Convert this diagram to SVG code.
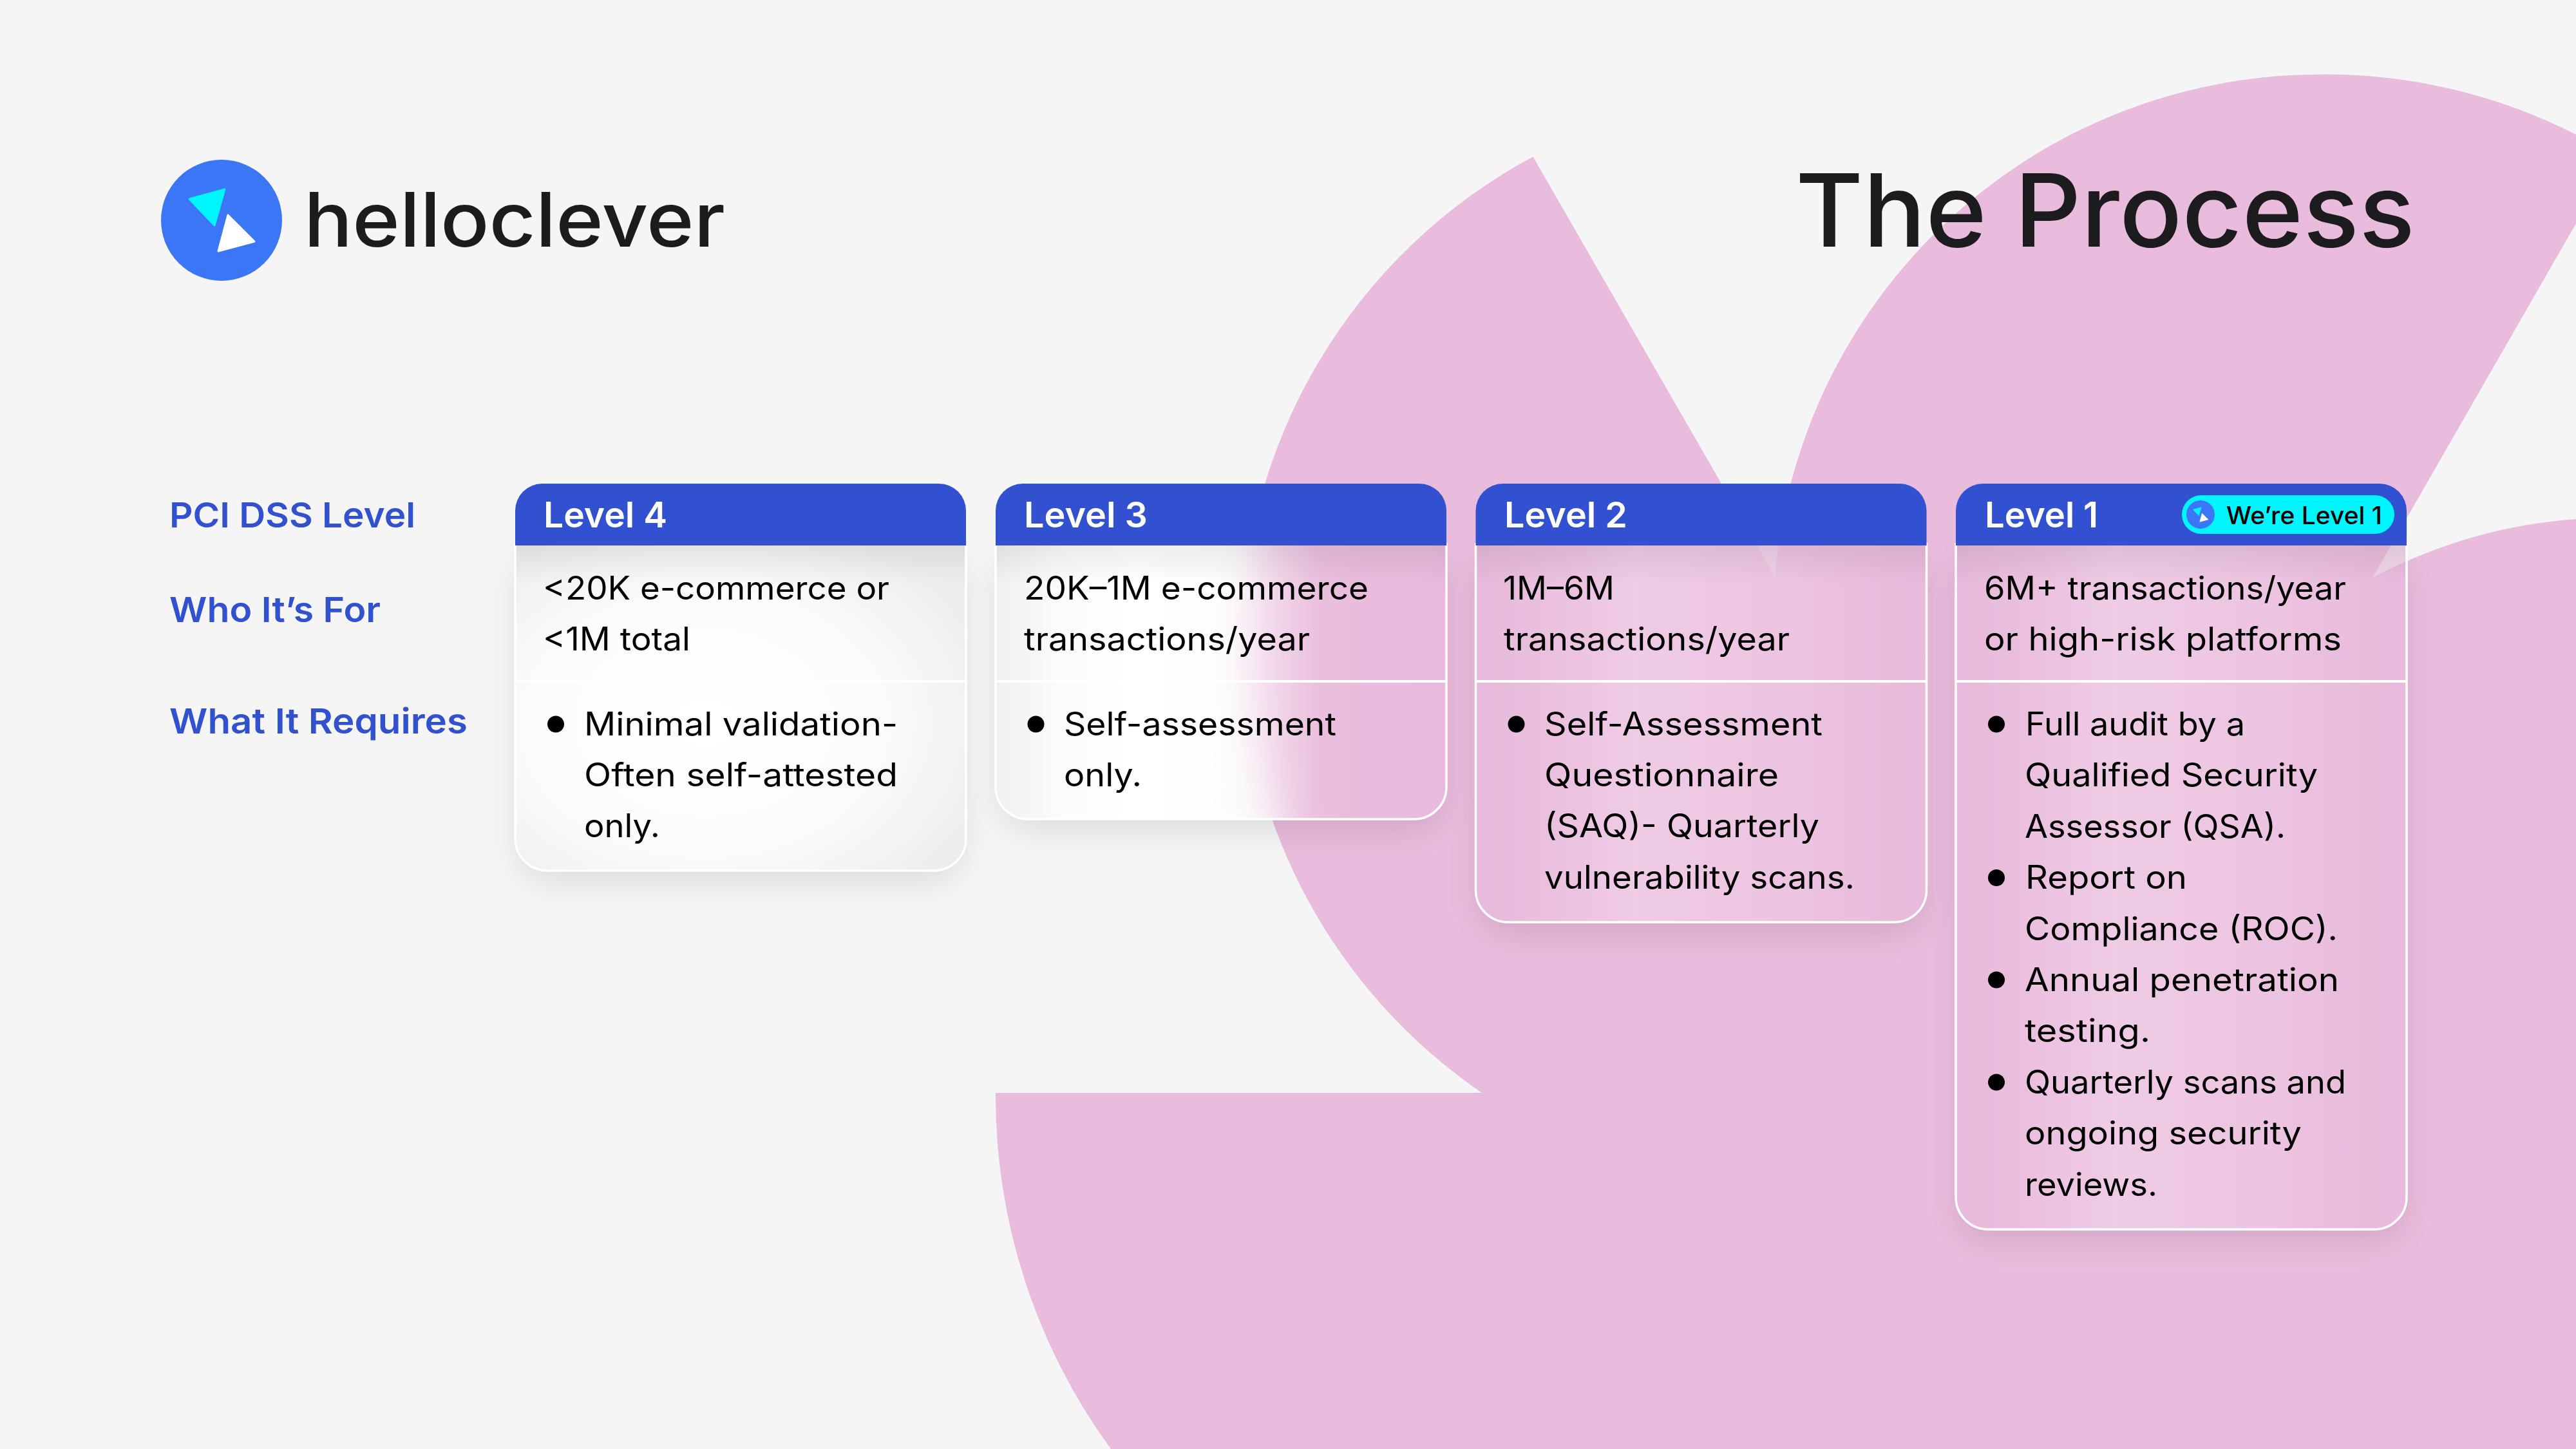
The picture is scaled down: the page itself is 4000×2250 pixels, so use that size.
<svg xmlns="http://www.w3.org/2000/svg" width="4000" height="2250" viewBox="0 0 4000 2250">
<style>
text{font-family:Inter,"Liberation Sans",sans-serif}
.b{font-size:50px;fill:#000;font-weight:400}
.h{font-size:55px;fill:#fff;font-weight:600}
.l{font-size:54px;fill:#3151D0;font-weight:600}
.hd{fill:#3151D0}
.br{fill:none;stroke:#fff;stroke-width:3.5}
.dv{stroke:#fff;stroke-width:4}
.sh{fill:#000;fill-opacity:.11;filter:url(#blur)}
.is{fill:url(#inner)}
.base{fill:#F5F5F5}
</style>
<defs>
<filter id="blur" x="-20%" y="-20%" width="140%" height="140%"><feGaussianBlur stdDeviation="24"/></filter>
<filter id="soft" x="0" y="0" width="100%" height="100%"><feGaussianBlur stdDeviation="32"/></filter>
<linearGradient id="inner" x1="0" y1="0" x2="0" y2="1"><stop offset="0" stop-color="#000" stop-opacity=".07"/><stop offset="1" stop-color="#000" stop-opacity="0"/></linearGradient>
<radialGradient id="g4" cx=".42" cy=".55" r=".68"><stop offset="0" stop-color="#fff"/><stop offset=".55" stop-color="#fcfcfc"/><stop offset="1" stop-color="#ededed"/></radialGradient>
<linearGradient id="g3"><stop offset="0" stop-color="#f0f0f0"/><stop offset=".14" stop-color="#fbfbfb"/><stop offset=".3" stop-color="#fff"/><stop offset=".48" stop-color="#fff" stop-opacity=".88"/><stop offset=".6" stop-color="#fff" stop-opacity=".45"/><stop offset=".72" stop-color="#fff" stop-opacity=".06"/><stop offset=".88" stop-color="#eabcdd" stop-opacity="0"/><stop offset="1" stop-color="#e6b7d9" stop-opacity=".5"/></linearGradient>
<linearGradient id="g2"><stop offset="0" stop-color="#e6b8d9" stop-opacity=".6"/><stop offset=".35" stop-color="#f0cee7" stop-opacity=".85"/><stop offset=".7" stop-color="#edc6e2" stop-opacity=".8"/><stop offset="1" stop-color="#e7b9da" stop-opacity=".5"/></linearGradient>
<g id="marks"><path d="M294 309 349 294 333 350Z" fill="#00F6FF" stroke="#00F6FF" stroke-width="3" stroke-linejoin="round"/><path d="M354 334 395 375 339 390Z" fill="#fff" stroke="#fff" stroke-width="3" stroke-linejoin="round"/></g>
<path id="b4" d="M800 843V1302A50 50 0 0 0 850 1352H1450A50 50 0 0 0 1500 1302V843Z"/>
<path id="b3" d="M1546 843V1222A50 50 0 0 0 1596 1272H2196A50 50 0 0 0 2246 1222V843Z"/>
<path id="b2" d="M2291.500 843V1382A50 50 0 0 0 2341.500 1432H2941.500A50 50 0 0 0 2991.500 1382V843Z"/>
<path id="b1" d="M3037 843V1859A50 50 0 0 0 3087 1909H3687A50 50 0 0 0 3737 1859V843Z"/>
<clipPath id="c3"><use href="#b3"/></clipPath>
<clipPath id="c2"><use href="#b2"/></clipPath>
<clipPath id="c1"><use href="#b1"/></clipPath>
</defs>
<rect id="bg" width="4000" height="2250" fill="#F5F5F5"/>
<path id="pink" fill="#E9BBDC" d="M1546 1697H2301A860 860 0 0 1 1927 1010A860 860 0 0 1 2380.400 243.400L2756 895A850 850 0 0 1 3595 115.700A860 860 0 0 1 4000 209V347L3684 897A800 800 0 0 1 4000 806V2250H1725A930 930 0 0 1 1546 1697Z"/>
<g id="logo">
<circle cx="344" cy="342" r="94" fill="#3B76F6"/>
<use href="#marks"/>
<text x="472" y="383" font-size="117" font-weight="500" fill="#1C1C1E" textLength="654" lengthAdjust="spacingAndGlyphs">helloclever</text>
</g>
<text id="title" x="2788" y="383" font-size="157" font-weight="520" fill="#1C1C1E" textLength="962" lengthAdjust="spacingAndGlyphs">The Process</text>
<g id="labels">
<text class="l" x="263" y="818.500" textLength="382" lengthAdjust="spacingAndGlyphs">PCI DSS Level</text>
<text class="l" x="263" y="965.500" textLength="328" lengthAdjust="spacingAndGlyphs">Who It’s For</text>
<text class="l" x="263" y="1139" textLength="463" lengthAdjust="spacingAndGlyphs">What It Requires</text>
</g>
<g id="card-level-4">
<rect class="sh" x="806" y="860" width="688" height="508" rx="50"/>
<use href="#b4" fill="url(#g4)"/>
<rect class="is" x="800" y="847" width="700" height="60"/>
<path class="br" d="M800 843V1302A50 50 0 0 0 850 1352H1450A50 50 0 0 0 1500 1302V843"/>
<path class="hd" d="M800 847V793A42 42 0 0 1 842 751H1458A42 42 0 0 1 1500 793V847Z"/>
<line class="dv" x1="800" x2="1500" y1="1058" y2="1058"/>
<text class="h" x="844" y="818.500" textLength="192" lengthAdjust="spacingAndGlyphs">Level 4</text>
<text class="b" x="843" y="930.500" textLength="538" lengthAdjust="spacingAndGlyphs">&lt;20K e-commerce or</text>
<text class="b" x="843" y="1010" textLength="229" lengthAdjust="spacingAndGlyphs">&lt;1M total</text>
<circle cx="863" cy="1124.500" r="13"/>
<text class="b" x="907" y="1142" textLength="487" lengthAdjust="spacingAndGlyphs">Minimal validation-</text>
<text class="b" x="907" y="1221" textLength="487" lengthAdjust="spacingAndGlyphs">Often self-attested</text>
<text class="b" x="907" y="1300" textLength="118" lengthAdjust="spacingAndGlyphs">only.</text>
</g>
<g id="card-level-3">
<rect class="sh" x="1552" y="860" width="688" height="428" rx="50"/>
<use href="#b3" class="base"/>
<g clip-path="url(#c3)"><use href="#pink" filter="url(#soft)"/></g>
<use href="#b3" fill="url(#g3)"/>
<rect class="is" x="1546" y="847" width="700" height="60"/>
<path class="br" d="M1546 843V1222A50 50 0 0 0 1596 1272H2196A50 50 0 0 0 2246 1222V843"/>
<path class="hd" d="M1546 847V793A42 42 0 0 1 1588 751H2204A42 42 0 0 1 2246 793V847Z"/>
<line class="dv" x1="1546" x2="2246" y1="1058" y2="1058"/>
<text class="h" x="1590" y="818.500" textLength="192" lengthAdjust="spacingAndGlyphs">Level 3</text>
<text class="b" x="1590" y="930.500" textLength="535" lengthAdjust="spacingAndGlyphs">20K–1M e-commerce</text>
<text class="b" x="1590" y="1010" textLength="444" lengthAdjust="spacingAndGlyphs">transactions/year</text>
<circle cx="1608.500" cy="1124.500" r="13"/>
<text class="b" x="1652" y="1142" textLength="423" lengthAdjust="spacingAndGlyphs">Self-assessment</text>
<text class="b" x="1652" y="1221" textLength="121" lengthAdjust="spacingAndGlyphs">only.</text>
</g>
<g id="card-level-2">
<rect class="sh" x="2298" y="860" width="688" height="588" rx="50"/>
<use href="#b2" class="base"/>
<use href="#pink" clip-path="url(#c2)"/>
<use href="#b2" fill="url(#g2)"/>
<rect class="is" x="2291.500" y="847" width="700" height="60"/>
<path class="br" d="M2291.500 843V1382A50 50 0 0 0 2341.500 1432H2941.500A50 50 0 0 0 2991.500 1382V843"/>
<path class="hd" d="M2291.500 847V793A42 42 0 0 1 2333.500 751H2949.500A42 42 0 0 1 2991.500 793V847Z"/>
<line class="dv" x1="2291.500" x2="2991.500" y1="1058" y2="1058"/>
<text class="h" x="2336" y="818.500" textLength="191" lengthAdjust="spacingAndGlyphs">Level 2</text>
<text class="b" x="2334" y="930.500" textLength="173" lengthAdjust="spacingAndGlyphs">1M–6M</text>
<text class="b" x="2335" y="1010" textLength="444" lengthAdjust="spacingAndGlyphs">transactions/year</text>
<circle cx="2354.500" cy="1124.500" r="13"/>
<text class="b" x="2398" y="1142" textLength="432" lengthAdjust="spacingAndGlyphs">Self-Assessment</text>
<text class="b" x="2398" y="1221" textLength="364" lengthAdjust="spacingAndGlyphs">Questionnaire</text>
<text class="b" x="2398" y="1300" textLength="427" lengthAdjust="spacingAndGlyphs">(SAQ)- Quarterly</text>
<text class="b" x="2398" y="1379.500" textLength="482" lengthAdjust="spacingAndGlyphs">vulnerability scans.</text>
</g>
<g id="card-level-1">
<rect class="sh" x="3043" y="860" width="688" height="1065" rx="50"/>
<use href="#b1" class="base"/>
<use href="#pink" clip-path="url(#c1)"/>
<use href="#b1" fill="url(#g2)"/>
<rect class="is" x="3037" y="847" width="700" height="60"/>
<path class="br" d="M3037 843V1859A50 50 0 0 0 3087 1909H3687A50 50 0 0 0 3737 1859V843"/>
<path class="hd" d="M3037 847V793A42 42 0 0 1 3079 751H3695A42 42 0 0 1 3737 793V847Z"/>
<line class="dv" x1="3037" x2="3737" y1="1058" y2="1058"/>
<text class="h" x="3082" y="818.500" textLength="176" lengthAdjust="spacingAndGlyphs">Level 1</text>
<g id="badge">
<rect x="3388" y="769" width="330" height="60" rx="30" fill="#00F6FF"/>
<circle cx="3417" cy="799" r="22" fill="#3B76F6"/>
<use href="#marks" transform="translate(3417 799) scale(.234) translate(-344 -342)"/>
<text x="3457" y="814" font-size="38" font-weight="500" fill="#000" textLength="242" lengthAdjust="spacingAndGlyphs">We’re Level 1</text>
</g>
<text class="b" x="3081" y="930.500" textLength="562" lengthAdjust="spacingAndGlyphs">6M+ transactions/year</text>
<text class="b" x="3081" y="1010" textLength="555" lengthAdjust="spacingAndGlyphs">or high-risk platforms</text>
<circle cx="3100" cy="1124.500" r="13"/>
<circle cx="3100" cy="1363" r="13"/>
<circle cx="3100" cy="1521.500" r="13"/>
<circle cx="3100" cy="1680.500" r="13"/>
<text class="b" x="3145" y="1142" textLength="341" lengthAdjust="spacingAndGlyphs">Full audit by a</text>
<text class="b" x="3144" y="1221" textLength="455" lengthAdjust="spacingAndGlyphs">Qualified Security</text>
<text class="b" x="3144" y="1300.500" textLength="405" lengthAdjust="spacingAndGlyphs">Assessor (QSA).</text>
<text class="b" x="3145" y="1380" textLength="251" lengthAdjust="spacingAndGlyphs">Report on</text>
<text class="b" x="3144" y="1459.500" textLength="486" lengthAdjust="spacingAndGlyphs">Compliance (ROC).</text>
<text class="b" x="3144" y="1538.500" textLength="488" lengthAdjust="spacingAndGlyphs">Annual penetration</text>
<text class="b" x="3144" y="1618" textLength="195" lengthAdjust="spacingAndGlyphs">testing.</text>
<text class="b" x="3144" y="1697.500" textLength="499" lengthAdjust="spacingAndGlyphs">Quarterly scans and</text>
<text class="b" x="3144" y="1777" textLength="430" lengthAdjust="spacingAndGlyphs">ongoing security</text>
<text class="b" x="3144" y="1856.500" textLength="206" lengthAdjust="spacingAndGlyphs">reviews.</text>
</g>
</svg>
